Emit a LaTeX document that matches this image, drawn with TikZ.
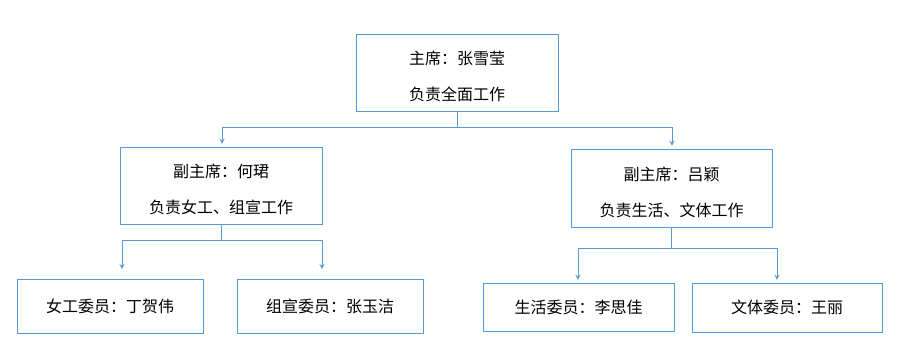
\documentclass[tikz,border=0pt]{standalone}
\usepackage{fontspec}
\setmainfont{Noto Sans CJK SC}
\definecolor{lineblue}{HTML}{5B9BD5}
\newcommand\liftline{\rule{0pt}{16.5pt}}
\begin{document}
\begin{tikzpicture}[x=0.75pt,y=-0.75pt,>=stealth,
    box/.style={draw=lineblue,line width=0.75pt,inner sep=0pt,align=center,
        font=\fontsize{12}{27}\selectfont},
    link/.style={draw=lineblue,line width=0.75pt},
    arr/.style={link,->,shorten >=2pt}]
    \useasboundingbox (0,0) rectangle (915,354);
    \node[box,minimum width=151.5pt,minimum height=57.75pt] (ZX) at (457,72.5) {\liftline 主席：张雪莹\\负责全面工作};
    \node[box,minimum width=151.5pt,minimum height=57.75pt] (FL) at (221,185.5) {\liftline 副主席：何珺\\负责女工、组宣工作};
    \node[box,minimum width=150.75pt,minimum height=58.5pt] (FR) at (671.5,188) {\liftline 副主席：吕颖\\负责生活、文体工作};
    \node[box,minimum width=139.5pt,minimum height=40.5pt] (NG) at (110,306) {女工委员：丁贺伟};
    \node[box,minimum width=139.5pt,minimum height=40.5pt] (ZXW) at (330,306) {组宣委员：张玉洁};
    \node[box,minimum width=143.25pt,minimum height=36pt] (SH) at (578.5,307) {生活委员：李思佳};
    \node[box,minimum width=142.5pt,minimum height=36.75pt] (WT) at (787,307.5) {文体委员：王丽};
    \coordinate (Ta) at (222,127);
    \coordinate (Tb) at (672,127);
    \coordinate (La) at (122,240);
    \coordinate (Lb) at (322,240);
    \coordinate (Ra) at (578,248);
    \coordinate (Rb) at (777,248);
    \draw[link] (ZX.south) -- (ZX.south |- Ta);
    \draw[link] (Ta) -- (Tb);
    \draw[arr] (Ta) -- (Ta |- FL.north);
    \draw[arr] (Tb) -- (Tb |- FR.north);
    \draw[link] (FL.south) -- (FL.south |- La);
    \draw[link] (La) -- (Lb);
    \draw[arr,shorten >=7pt] (La) -- (La |- NG.north);
    \draw[arr,shorten >=7pt] (Lb) -- (Lb |- ZXW.north);
    \draw[link] (FR.south) -- (FR.south |- Ra);
    \draw[link] (Ra) -- (Rb);
    \draw[arr] (Ra) -- (Ra |- SH.north);
    \draw[arr] (Rb) -- (Rb |- WT.north);
\end{tikzpicture}
\end{document}
